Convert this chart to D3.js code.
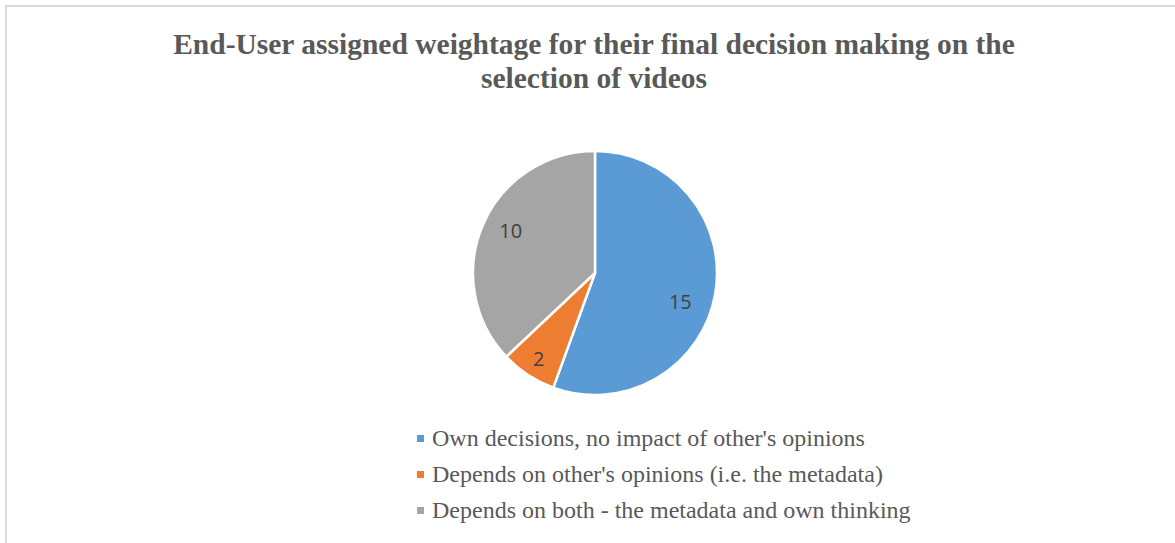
<!DOCTYPE html>
<html>
<head>
<meta charset="utf-8">
<script src="https://cdn.jsdelivr.net/npm/d3@7"></script>
<style>
  html, body { margin: 0; padding: 0; background: #fff; }
  svg { display: block; }
</style>
</head>
<body>
<script>
// Survey responses: how end-users weigh their final choice of videos
const categories = [
  "Own decisions, no impact of other's opinions",
  "Depends on other's opinions (i.e. the metadata)",
  "Depends on both - the metadata and own thinking"
];
const counts = [15, 2, 10];
const sliceColors = ["#5B9BD5", "#ED7D31", "#A5A5A5"];
const titleLines = [
  "End-User assigned weightage for their final decision making on the",
  "selection of videos"
];

const W = 1175, H = 543;
const cx = 595, cy = 273, R = 122;

// label placement tweaks per slice (fraction of radius, extra degrees)
const labelRadiusFrac = [0.74, 0.84, 0.77];
const labelAngleNudge = [9, 0, 3];

const svg = d3.select("body").append("svg")
  .attr("width", W).attr("height", H);

// chart frame (top and left edges visible)
svg.append("path")
  .attr("d", `M6,${H + 2} L6,6 L${W + 2},6`)
  .attr("fill", "none")
  .attr("stroke", "#d9d9d9")
  .attr("stroke-width", 2);

// title
svg.append("g").selectAll("text")
  .data(titleLines)
  .join("text")
  .attr("x", 594)
  .attr("y", (d, i) => 54 + i * 34)
  .attr("text-anchor", "middle")
  .attr("font-family", "'Liberation Serif', 'Times New Roman', serif")
  .attr("font-weight", "bold")
  .attr("font-size", 29.5)
  .attr("fill", "#595959")
  .text(d => d);

const pie = d3.pie().sort(null).value(d => d);
const arcs = pie(counts);
const arc = d3.arc().innerRadius(0).outerRadius(R);

const g = svg.append("g").attr("transform", `translate(${cx},${cy})`);

g.selectAll("path")
  .data(arcs)
  .join("path")
  .attr("d", arc)
  .attr("fill", (d, i) => sliceColors[i])
  .attr("stroke", "#fff")
  .attr("stroke-width", 2.5)
  .attr("stroke-linejoin", "round");

g.selectAll("text")
  .data(arcs)
  .join("text")
  .attr("transform", (d, i) => {
    const a = (d.startAngle + d.endAngle) / 2 + labelAngleNudge[i] * Math.PI / 180;
    const r = R * labelRadiusFrac[i];
    return `translate(${r * Math.sin(a)},${-r * Math.cos(a)})`;
  })
  .attr("text-anchor", "middle")
  .attr("dy", "0.35em")
  .attr("font-family", "'Open Sans', 'Liberation Sans', sans-serif")
  .attr("font-size", 20)
  .attr("fill", "#404040")
  .text(d => d.data);

// legend
const legend = svg.append("g").selectAll("g")
  .data(categories)
  .join("g")
  .attr("transform", (d, i) => `translate(417,${446 + i * 36})`);

legend.append("rect")
  .attr("x", 0).attr("y", -11)
  .attr("width", 7).attr("height", 7)
  .attr("fill", (d, i) => sliceColors[i]);

legend.append("text")
  .attr("x", 15).attr("y", 0)
  .attr("font-family", "'Liberation Serif', 'Times New Roman', serif")
  .attr("font-size", 24)
  .attr("fill", "#595959")
  .text(d => d);
</script>
</body>
</html>
